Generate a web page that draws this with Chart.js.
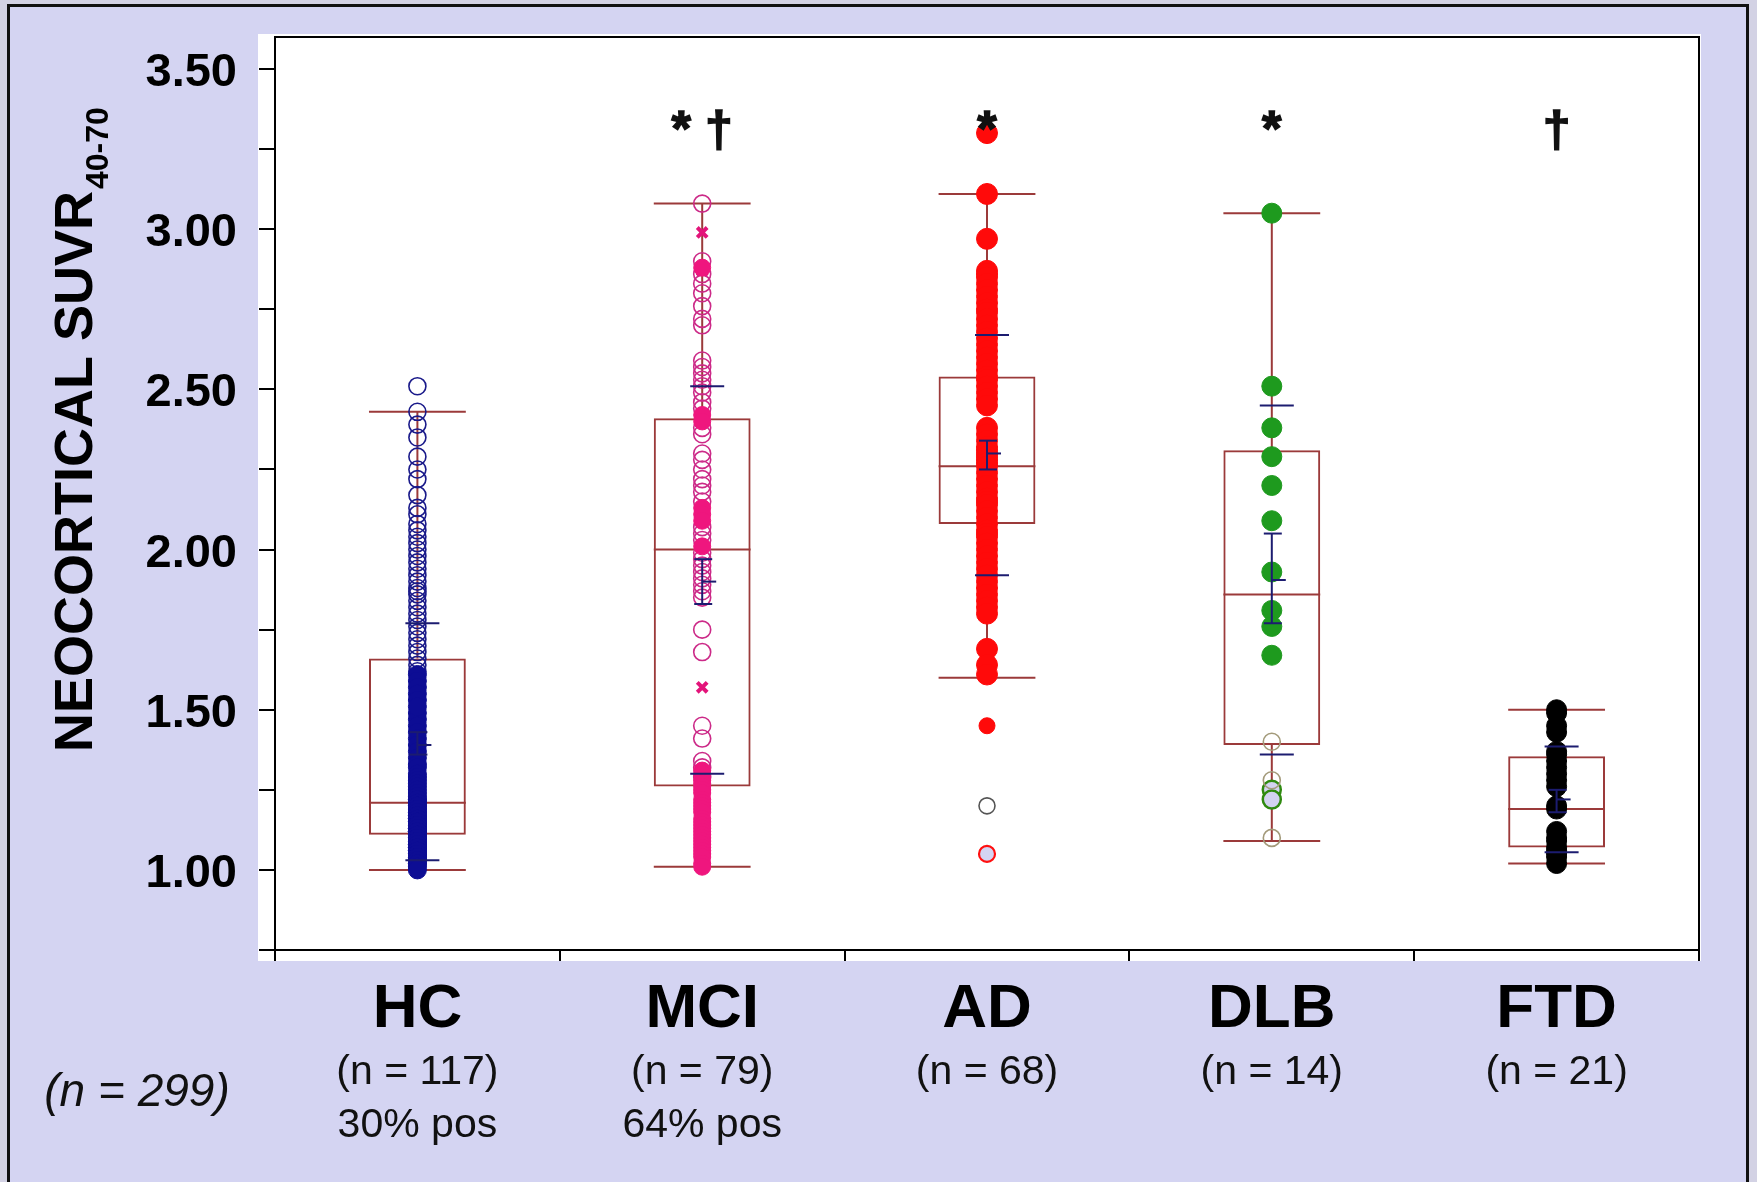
<!DOCTYPE html>
<html>
<head>
<meta charset="utf-8">
<script src="https://cdn.jsdelivr.net/npm/chart.js@4.4.1/dist/chart.umd.min.js"></script>
<style>
  html, body { margin: 0; padding: 0; overflow: hidden; background: #d3d2e4; }
  #frame { position: absolute; left: 7px; top: 4px; width: 1736px; height: 1200px; border: 3px solid #111; background: #d4d4f2; }
  #c { position: absolute; left: 0; top: 0; }
</style>
</head>
<body>
<div id="frame"></div>
<canvas id="c" width="1757" height="1182"></canvas>
<script>
// groups and texts under the axis
const groups = ['HC', 'MCI', 'AD', 'DLB', 'FTD'];
const nLabels = ['(n = 117)', '(n = 79)', '(n = 68)', '(n = 14)', '(n = 21)'];
const posLabels = ['30% pos', '64% pos', '', '', ''];
const sigLabels = ['', '* \u2020', '*', '*', '\u2020'];

// box plot summary
const whiskerLow  = [1.00, 1.01, 1.60, 1.09, 1.02];
const q1          = [1.11, 1.26, 2.08, 1.39, 1.07];
const median      = [1.21, 2.00, 2.26, 1.86, 1.19];
const q3          = [1.66, 2.41, 2.54, 2.31, 1.355];
const whiskerHigh = [2.43, 3.08, 3.11, 3.05, 1.50];

// mean +/- SD and CI of mean (navy marks)
const sdLow    = [1.03, 1.30, 1.92, 1.36, 1.055];
const sdHigh   = [1.77, 2.51, 2.67, 2.45, 1.385];
const meanVals = [1.39, 1.90, 2.30, 1.905, 1.22];
const ciLow    = [1.36, 1.83, 2.25, 1.77, 1.18];
const ciHigh   = [1.43, 1.97, 2.34, 2.05, 1.25];

// individual subjects
const hcOpen = [2.51, 2.43, 2.39, 2.35, 2.29, 2.25, 2.22, 2.17, 2.13, 2.11, 2.08, 2.06, 2.04, 2.02, 2.00,
  1.98, 1.96, 1.94, 1.92, 1.90, 1.88, 1.87, 1.86, 1.84, 1.82, 1.80, 1.78, 1.76, 1.74, 1.72, 1.70, 1.68, 1.66, 1.64, 1.62];
const hcFilled = [1.61, 1.59, 1.57, 1.55, 1.53, 1.49, 1.47, 1.45, 1.43, 1.41, 1.39, 1.37, 1.35, 1.33, 1.32, 1.30,
  1.29, 1.28, 1.27, 1.26, 1.25, 1.24, 1.23, 1.51,
  1.22, 1.22, 1.21, 1.21, 1.20, 1.20, 1.19, 1.19, 1.18, 1.18, 1.17, 1.17, 1.16, 1.16, 1.16, 1.15, 1.15, 1.15,
  1.14, 1.14, 1.14, 1.13, 1.13, 1.13, 1.13, 1.12, 1.12, 1.12, 1.12,
  1.11, 1.11, 1.10, 1.10, 1.10, 1.09, 1.09, 1.09, 1.08, 1.08, 1.08, 1.07, 1.07, 1.07, 1.06, 1.06, 1.06,
  1.05, 1.05, 1.05, 1.04, 1.04, 1.04, 1.03, 1.03, 1.02, 1.02, 1.01, 1.00];
const mciOpen = [3.08, 2.90, 2.86, 2.83, 2.80, 2.76, 2.72, 2.70, 2.59, 2.57, 2.55, 2.53, 2.51, 2.49, 2.46, 2.44,
  2.38, 2.36, 2.30, 2.28, 2.25, 2.22, 2.20, 2.18, 2.15, 2.07, 2.05, 2.03, 1.99, 1.97, 1.95, 1.93, 1.91, 1.89,
  1.87, 1.85, 1.75, 1.68, 1.45, 1.41, 1.34, 1.32, 1.29];
const mciFilled = [2.88, 2.42, 2.40, 2.13, 2.11, 2.09, 2.01, 1.31, 1.30, 1.28, 1.27, 1.26, 1.25, 1.24, 1.22, 1.21,
  1.20, 1.19, 1.18, 1.16, 1.15, 1.14, 1.13, 1.12, 1.11, 1.10, 1.09, 1.08, 1.07, 1.06, 1.05, 1.04, 1.02, 1.01];
const mciCross = [2.99, 2.87, 1.57];
const adFilled = [3.30, 3.11, 2.97, 2.87, 2.86, 2.85, 2.83, 2.81, 2.79, 2.77, 2.75, 2.74, 2.72, 2.70, 2.68, 2.66,
  2.64, 2.62, 2.60, 2.58, 2.56, 2.54, 2.53, 2.51, 2.49, 2.47, 2.45, 2.38, 2.36, 2.34, 2.32, 2.31, 2.30, 2.29,
  2.28, 2.27, 2.26, 2.24, 2.22, 2.20, 2.18, 2.16, 2.15, 2.14, 2.12, 2.10, 2.08, 2.06, 2.05, 2.04, 2.02, 2.00,
  1.98, 1.96, 1.94, 1.92, 1.90, 1.88, 1.86, 1.84, 1.82, 1.80, 1.69, 1.64, 1.61];
const adSmall = [1.45];
const adOpen = [1.20];
const adRing = [1.05];
const dlbFilled = [3.05, 2.51, 2.38, 2.29, 2.20, 2.09, 1.93, 1.81, 1.76, 1.67];
const dlbOpen = [1.40, 1.28, 1.10];
const dlbRing = [1.25, 1.22];
const ftdFilled = [1.50, 1.49, 1.45, 1.43, 1.37, 1.36, 1.34, 1.32, 1.30, 1.28, 1.26, 1.20, 1.19, 1.12, 1.10,
  1.09, 1.07, 1.06, 1.05, 1.04, 1.02];

const boxColor = '#9b3a3a';
const navy = '#1c1c70';

Chart.defaults.font.family = "'Liberation Sans', Arial, sans-serif";

function scatter(group, values, style) {
  return Object.assign({
    type: 'scatter',
    data: values.map(v => ({ x: group, y: v })),
    pointStyle: 'circle',
    order: 0
  }, style);
}

const open = (color, r) => ({ pointRadius: r, borderColor: color, backgroundColor: 'rgba(0,0,0,0)', pointBorderWidth: 1.6 });
const filled = (color, r) => ({ pointRadius: r, borderColor: color, backgroundColor: color, pointBorderWidth: 1 });

const boxPlot = {
  id: 'boxPlot',
  beforeDraw(chart) {
    // white plot panel
    const { ctx, chartArea: a } = chart;
    ctx.save();
    ctx.fillStyle = '#fff';
    ctx.fillRect(a.left - 17, a.top - 3, a.right - a.left + 19, a.bottom - a.top + 14);
    ctx.restore();
  },
  beforeDatasetsDraw(chart) {
    // whiskers, caps, medians
    const { ctx, scales: { x, y } } = chart;
    const bars = chart.getDatasetMeta(0).data;
    ctx.save();
    ctx.strokeStyle = boxColor;
    ctx.lineWidth = 2;
    const line = (x0, y0, x1, y1) => { ctx.beginPath(); ctx.moveTo(x0, y0); ctx.lineTo(x1, y1); ctx.stroke(); };
    groups.forEach((g, i) => {
      const cx = x.getPixelForValue(i);
      const hw = bars[i].width / 2;
      line(cx, y.getPixelForValue(q3[i]), cx, y.getPixelForValue(whiskerHigh[i]));
      line(cx, y.getPixelForValue(q1[i]), cx, y.getPixelForValue(whiskerLow[i]));
      [whiskerHigh[i], whiskerLow[i], median[i]].forEach(v => {
        const py = y.getPixelForValue(v);
        line(cx - hw, py, cx + hw, py);
      });
    });
    ctx.restore();
  },
  afterDatasetsDraw(chart) {
    // navy mean / SD marks
    const { ctx, scales: { x, y } } = chart;
    ctx.save();
    ctx.strokeStyle = navy;
    ctx.lineWidth = 2;
    const line = (x0, y0, x1, y1) => { ctx.beginPath(); ctx.moveTo(x0, y0); ctx.lineTo(x1, y1); ctx.stroke(); };
    groups.forEach((g, i) => {
      const cx = x.getPixelForValue(i);
      [sdLow[i], sdHigh[i]].forEach(v => line(cx - 12, y.getPixelForValue(v), cx + 22, y.getPixelForValue(v)));
      line(cx, y.getPixelForValue(ciLow[i]), cx, y.getPixelForValue(ciHigh[i]));
      [ciLow[i], ciHigh[i]].forEach(v => line(cx - 8, y.getPixelForValue(v), cx + 10, y.getPixelForValue(v)));
      line(cx, y.getPixelForValue(meanVals[i]), cx + 14, y.getPixelForValue(meanVals[i]));
    });
    ctx.restore();
  },
  afterDraw(chart) {
    const { ctx, chartArea: a, scales: { x } } = chart;
    ctx.save();
    // top and right frame
    ctx.strokeStyle = '#000';
    ctx.lineWidth = 2;
    ctx.beginPath();
    ctx.moveTo(a.left, a.top); ctx.lineTo(a.right, a.top); ctx.lineTo(a.right, a.bottom);
    ctx.stroke();

    ctx.fillStyle = '#111';
    ctx.strokeStyle = '#111';
    ctx.lineWidth = 1.5;
    ctx.textAlign = 'center';
    ctx.textBaseline = 'middle';
    groups.forEach((g, i) => {
      const cx = x.getPixelForValue(i);
      ctx.font = "41px 'Liberation Sans'";
      ctx.fillText(nLabels[i], cx, a.bottom + 123);
      if (posLabels[i]) ctx.fillText(posLabels[i], cx, a.bottom + 176);
      ctx.font = "bold 50px 'Liberation Sans'";
      ctx.textBaseline = 'alphabetic';
      ctx.fillText(sigLabels[i], cx, 146);
      ctx.strokeText(sigLabels[i], cx, 146);
      ctx.textBaseline = 'middle';
    });
    ctx.font = "italic 46px 'Liberation Sans'";
    ctx.fillText('(n = 299)', 137, a.bottom + 143);

    // y axis title with subscript
    ctx.translate(92, 752);
    ctx.rotate(-Math.PI / 2);
    ctx.textAlign = 'left';
    ctx.textBaseline = 'alphabetic';
    ctx.fillStyle = '#000';
    ctx.font = "bold 54px 'Liberation Sans'";
    const main = 'NEOCORTICAL SUVR';
    ctx.fillText(main, 0, 0);
    const w = ctx.measureText(main).width;
    ctx.font = "bold 32px 'Liberation Sans'";
    ctx.fillText('40-70', w + 2, 16);
    ctx.restore();
  }
};

new Chart(document.getElementById('c'), {
  type: 'bar',
  data: {
    labels: groups,
    datasets: [
      {
        type: 'bar',
        data: groups.map((g, i) => [q1[i], q3[i]]),
        backgroundColor: 'rgba(0,0,0,0)',
        borderColor: boxColor,
        borderWidth: 2,
        borderSkipped: false,
        barPercentage: 0.34,
        categoryPercentage: 1,
        order: 10
      },
      scatter('HC', hcFilled, filled('#0d0d94', 9)),
      scatter('HC', hcOpen, open('#1a1a8a', 8.5)),
      scatter('MCI', mciFilled, filled('#ef167e', 8.5)),
      scatter('MCI', mciOpen, open('#cc2a88', 8.5)),
      scatter('MCI', mciCross, { pointStyle: 'crossRot', pointRadius: 7, borderColor: '#e3147a', pointBorderWidth: 4 }),
      scatter('AD', adFilled, filled('#ff0a0a', 10.5)),
      scatter('AD', adSmall, filled('#ff0a0a', 8)),
      scatter('AD', adOpen, { pointRadius: 8, borderColor: '#555', backgroundColor: '#fff', pointBorderWidth: 1.6 }),
      scatter('AD', adRing, { pointRadius: 8, borderColor: '#ff1010', backgroundColor: '#d4d4f2', pointBorderWidth: 2.2 }),
      scatter('DLB', dlbFilled, filled('#1e9a1e', 10)),
      scatter('DLB', dlbOpen, open('#a39a7a', 8.5)),
      scatter('DLB', dlbRing, { pointRadius: 9, borderColor: '#2f8a10', backgroundColor: '#d2d2f0', pointBorderWidth: 2.5 }),
      scatter('FTD', ftdFilled, filled('#000', 10))
    ]
  },
  options: {
    responsive: false,
    animation: false,
    devicePixelRatio: 1,
    layout: { padding: { top: 37, right: 58, left: 0, bottom: 0 } },
    plugins: { legend: { display: false }, tooltip: { enabled: false } },
    scales: {
      x: {
        afterFit: s => { s.height = 232; s.paddingLeft = 0; s.paddingRight = 0; },
        offset: true,
        border: { color: '#000', width: 2 },
        grid: { offset: true, drawOnChartArea: false, tickLength: 11, color: '#000', lineWidth: 2 },
        ticks: { color: '#000', maxRotation: 0, padding: 12, font: { size: 62, weight: 'bold' } }
      },
      y: {
        min: 0.75,
        max: 3.6,
        afterFit: s => { s.width = 275; s.paddingTop = 0; s.paddingBottom = 0; },
        border: { color: '#000', width: 2 },
        grid: { drawOnChartArea: false, tickLength: 16, color: '#000', lineWidth: 2 },
        ticks: {
          stepSize: 0.25,
          includeBounds: false,
          autoSkip: false,
          padding: 22,
          labelOffset: 4,
          color: '#000',
          font: { size: 47, weight: 'bold' },
          callback: v => Math.abs(v * 2 - Math.round(v * 2)) < 1e-6 ? v.toFixed(2) : ''
        }
      }
    }
  },
  plugins: [boxPlot]
});
</script>
</body>
</html>
